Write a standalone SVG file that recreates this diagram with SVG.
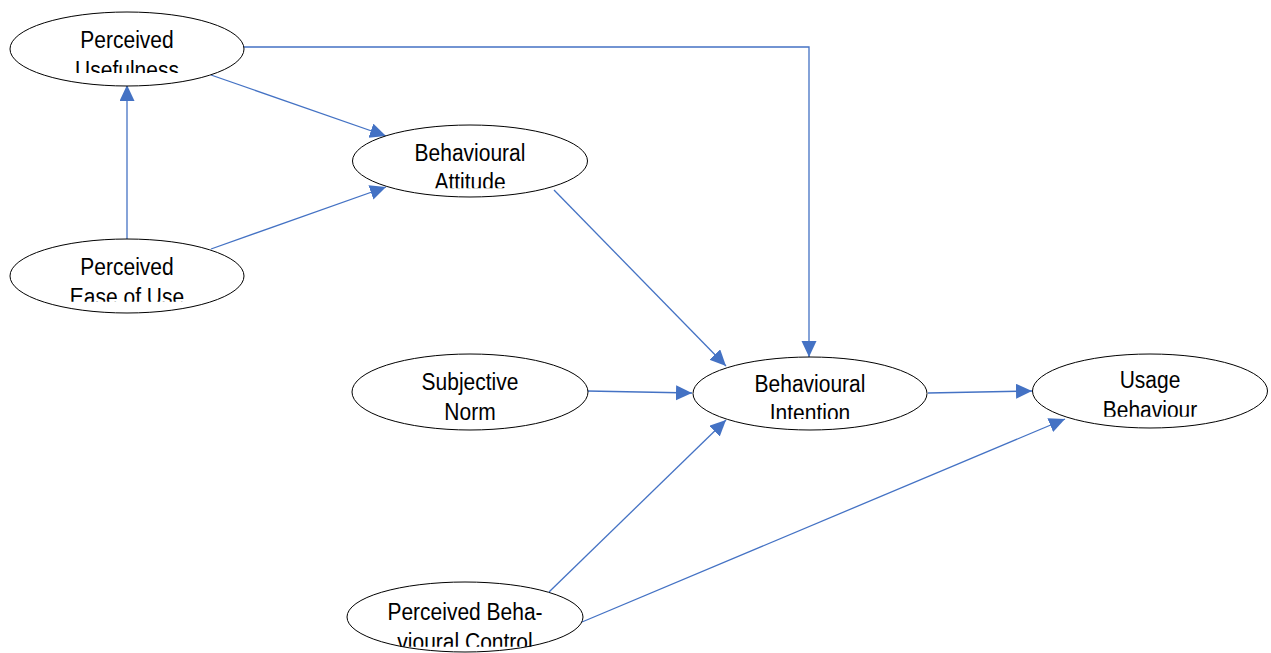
<svg xmlns="http://www.w3.org/2000/svg" width="1271" height="653" viewBox="0 0 1271 653">
<style>
.node ellipse{fill:#fff;stroke:#000;stroke-width:1}
.node text{font-family:"Liberation Sans",Arial,sans-serif;font-size:21px;fill:#000;text-anchor:middle}
#connectors line,#connectors polyline{stroke:#4472C4;stroke-width:1.3;fill:none;marker-end:url(#arr)}
</style>
<defs>
<marker id="arr" markerUnits="userSpaceOnUse" markerWidth="18" markerHeight="16" refX="16" refY="7.5" orient="auto">
<path d="M0,0 L16,7.5 L0,15 Z" fill="#4472C4"/>
</marker>
<clipPath id="c1"><rect x="0" y="0" width="300" height="73"/></clipPath>
<clipPath id="c2"><rect x="0" y="230" width="300" height="71.7"/></clipPath>
<clipPath id="c3"><rect x="340" y="110" width="300" height="78.3"/></clipPath>
<clipPath id="c4"><rect x="340" y="340" width="300" height="83"/></clipPath>
<clipPath id="c5"><rect x="680" y="340" width="300" height="79"/></clipPath>
<clipPath id="c6"><rect x="1020" y="340" width="300" height="76.7"/></clipPath>
<clipPath id="c7"><rect x="340" y="570" width="300" height="76.7"/></clipPath>
</defs>
<rect width="1271" height="653" fill="#fff"/>
<g id="connectors">
<polyline points="244,47 809,47 809,357"/>
<line x1="211" y1="75" x2="386" y2="136"/>
<line x1="127" y1="239" x2="127" y2="85"/>
<line x1="211" y1="249" x2="386" y2="187"/>
<line x1="554" y1="190" x2="726" y2="366"/>
<line x1="587" y1="391" x2="692" y2="393"/>
<line x1="928" y1="393" x2="1032" y2="391"/>
<line x1="549" y1="592" x2="726" y2="420"/>
<line x1="582" y1="622" x2="1065" y2="419"/>
</g>
<g id="pu" class="node">
<ellipse cx="127" cy="49" rx="117" ry="37"/>
<g clip-path="url(#c1)"><text transform="translate(127,48.3) scale(1,1.12)"><tspan x="0" y="0">Perceived</tspan><tspan x="0" y="26.5">Usefulness</tspan></text></g>
</g>
<g id="peou" class="node">
<ellipse cx="127" cy="276" rx="117" ry="37"/>
<g clip-path="url(#c2)"><text transform="translate(127,275) scale(1,1.12)"><tspan x="0" y="0">Perceived</tspan><tspan x="0" y="26.5">Ease of Use</tspan></text></g>
</g>
<g id="ba" class="node">
<ellipse cx="470" cy="161" rx="117.5" ry="36"/>
<g clip-path="url(#c3)"><text transform="translate(470,160.7) scale(1,1.12)"><tspan x="0" y="0">Behavioural</tspan><tspan x="0" y="26.5">Attitude</tspan></text></g>
</g>
<g id="sn" class="node">
<ellipse cx="470" cy="392" rx="118" ry="38"/>
<g clip-path="url(#c4)"><text transform="translate(470,390) scale(1,1.12)"><tspan x="0" y="0">Subjective</tspan><tspan x="0" y="26.5">Norm</tspan></text></g>
</g>
<g id="bi" class="node">
<ellipse cx="810" cy="393.5" rx="117" ry="36.5"/>
<g clip-path="url(#c5)"><text transform="translate(810,391.7) scale(1,1.12)"><tspan x="0" y="0">Behavioural</tspan><tspan x="0" y="26.5">Intention</tspan></text></g>
</g>
<g id="ub" class="node">
<ellipse cx="1150" cy="391" rx="117.5" ry="37"/>
<g clip-path="url(#c6)"><text transform="translate(1150,388) scale(1,1.12)"><tspan x="0" y="0">Usage</tspan><tspan x="0" y="26.5">Behaviour</tspan></text></g>
</g>
<g id="pbc" class="node">
<ellipse cx="465" cy="617" rx="118" ry="35"/>
<g clip-path="url(#c7)"><text transform="translate(465,620) scale(1,1.12)"><tspan x="0" y="0">Perceived Beha-</tspan><tspan x="0" y="26.5">vioural Control</tspan></text></g>
</g>
</svg>
